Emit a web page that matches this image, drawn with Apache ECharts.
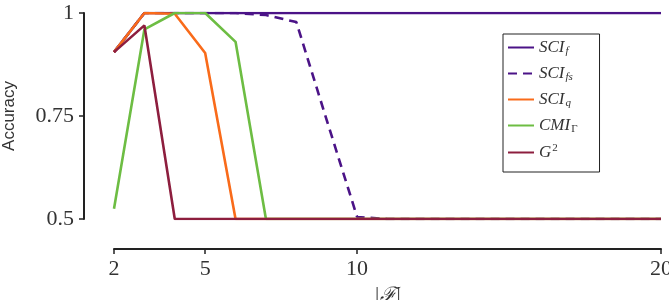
<!DOCTYPE html>
<html>
<head>
<meta charset="utf-8">
<script src="https://cdn.jsdelivr.net/npm/echarts@6/dist/echarts.min.js"></script>
<style>html,body{margin:0;padding:0;background:#fff}#c{width:669px;height:300px}</style>
</head>
<body>
<div id="c"></div>
<script>
var featureCounts = [2,3,4,5,6,7,8,9,10,11,12,13,14,15,16,17,18,19,20];
var sciF  = [0.905,1,1,1,1,1,1,1,1,1,1,1,1,1,1,1,1,1,1];
var sciFs = [0.905,1,1,1,1,0.995,0.978,0.74,0.505,0.5,0.5,0.5,0.5,0.5,0.5,0.5,0.5,0.5,0.5];
var sciQ  = [0.905,1,0.998,0.903,0.5,0.5,0.5,0.5,0.5,0.5,0.5,0.5,0.5,0.5,0.5,0.5,0.5,0.5,0.5];
var cmiG  = [0.525,0.96,1,1,0.93,0.5,0.5,0.5,0.5,0.5,0.5,0.5,0.5,0.5,0.5,0.5,0.5,0.5,0.5];
var g2    = [0.905,0.97,0.5,0.5,0.5,0.5,0.5,0.5,0.5,0.5,0.5,0.5,0.5,0.5,0.5,0.5,0.5,0.5,0.5];
var xTicks = [2,5,10,20];
var yTicks = [0.5,0.75,1];
var seriesNames = ['SCI_f','SCI_fs','SCI_q','CMI_G','G2'];
var legendRich = {
  'SCI_f': '{m|SCI}{s|f}',
  'SCI_fs': '{m|SCI}{s|fs}',
  'SCI_q': '{m|SCI}{s|q}',
  'CMI_G': '{m|CMI}{u|Γ}',
  'G2': '{m|G}{p|2}'
};
var colors = ['#4b1387','#4b1387','#f96b1a','#6dbd43','#8d1e3e'];

function pairs(v){ return featureCounts.map(function(x,i){ return [x, v[i]]; }); }
var serif = 'Liberation Serif';
var chart = echarts.init(document.getElementById('c'));
var allData = [sciF, sciFs, sciQ, cmiG, g2];
chart.setOption({
  animation: false,
  grid: {left: 114, right: 8, top: 13, bottom: 81, containLabel: false, outerBoundsMode: 'none'},
  legend: {
    orient: 'vertical', left: 503, top: 34,
    padding: [5, 22, 11, 4], itemGap: 8, itemWidth: 26, itemHeight: 14,
    borderColor: '#222', borderWidth: 1, borderRadius: 0,
    itemStyle: {opacity: 0},
    formatter: function(n){ return legendRich[n]; },
    textStyle: {
      color: '#333',
      rich: {
        m: {fontFamily: serif, fontStyle: 'italic', fontSize: 17, color: '#333'},
        s: {fontFamily: serif, fontStyle: 'italic', fontSize: 11, color: '#333', padding: [8,0,0,1]},
        u: {fontFamily: serif, fontSize: 11, color: '#333', padding: [8,0,0,1]},
        p: {fontFamily: serif, fontSize: 11, color: '#333', padding: [0,0,8,1]}
      }
    },
    data: seriesNames
  },
  xAxis: {
    type: 'value', min: 2, max: 20, offset: 30,
    name: '|ℱ|', nameLocation: 'middle', nameGap: 37,
    nameTextStyle: {fontFamily: serif, fontStyle: 'italic', fontSize: 20, color: '#333'},
    axisLine: {show: true, lineStyle: {color: '#222', width: 2}},
    axisTick: {show: true, customValues: xTicks, length: 5, inside: false, lineStyle: {color: '#222', width: 1.5}},
    axisLabel: {customValues: xTicks, fontFamily: serif, fontSize: 22, color: '#333', margin: 9},
    splitLine: {show: false}
  },
  yAxis: {
    type: 'value', min: 0.5, max: 1, interval: 0.25, offset: 30,
    name: 'Accuracy', nameLocation: 'middle', nameGap: 66, nameRotate: 90,
    nameTextStyle: {fontFamily: 'Liberation Sans', fontSize: 17, color: '#333'},
    axisLine: {show: true, lineStyle: {color: '#222', width: 2}},
    axisTick: {show: true, length: 5, lineStyle: {color: '#222', width: 1.5}},
    axisLabel: {fontFamily: serif, fontSize: 22, color: '#333', margin: 10,
      formatter: function(v){ return String(+v.toFixed(2)); }},
    splitLine: {show: false}
  },
  series: seriesNames.map(function(n, i){
    return {
      name: n, type: 'line', data: pairs(allData[i]),
      symbol: 'none', showSymbol: false,
      color: colors[i],
      lineStyle: {color: colors[i], width: 2.6, type: i === 1 ? [9,6] : 'solid'},
      z: 2 + i
    };
  })
});
</script>
</body>
</html>
